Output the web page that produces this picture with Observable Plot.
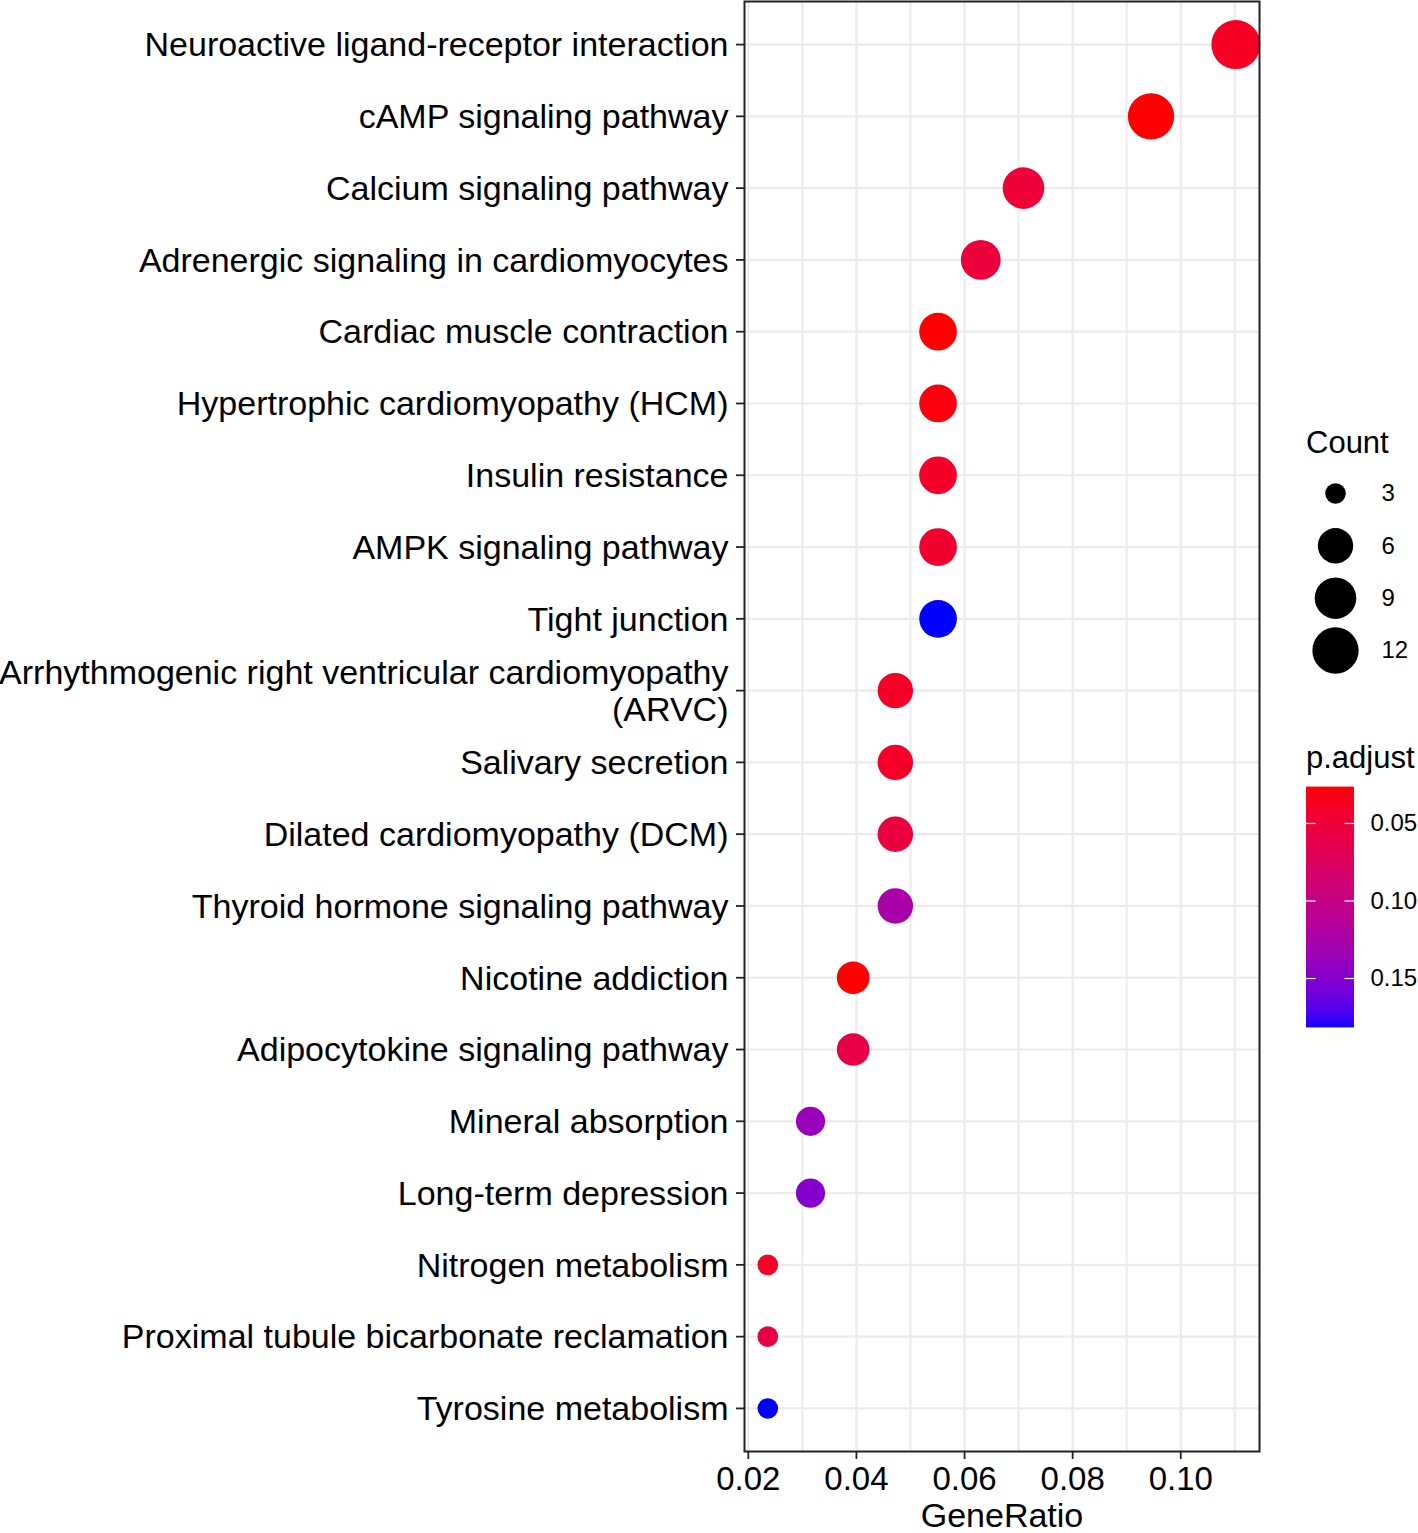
<!DOCTYPE html>
<html><head><meta charset="utf-8">
<script src="https://cdn.jsdelivr.net/npm/d3@7"></script>
<script src="https://cdn.jsdelivr.net/npm/@observablehq/plot@0.6"></script>
<style>
body{margin:0;background:#fff;font-family:"Liberation Sans",Arial,sans-serif}
#wrap{position:relative;width:1418px;height:1533px;overflow:hidden}
.abs{position:absolute}
.ttl{position:absolute;font-size:31px;line-height:31px;color:#000;white-space:nowrap}
svg{overflow:visible}
</style></head>
<body><div id="wrap"></div>
<script>
const terms = [
  "Neuroactive ligand-receptor interaction",
  "cAMP signaling pathway",
  "Calcium signaling pathway",
  "Adrenergic signaling in cardiomyocytes",
  "Cardiac muscle contraction",
  "Hypertrophic cardiomyopathy (HCM)",
  "Insulin resistance",
  "AMPK signaling pathway",
  "Tight junction",
  "Arrhythmogenic right ventricular cardiomyopathy (ARVC)",
  "Salivary secretion",
  "Dilated cardiomyopathy (DCM)",
  "Thyroid hormone signaling pathway",
  "Nicotine addiction",
  "Adipocytokine signaling pathway",
  "Mineral absorption",
  "Long-term depression",
  "Nitrogen metabolism",
  "Proximal tubule bicarbonate reclamation",
  "Tyrosine metabolism"
];
const tickLabels = [
  "Neuroactive ligand-receptor interaction",
  "cAMP signaling pathway",
  "Calcium signaling pathway",
  "Adrenergic signaling in cardiomyocytes",
  "Cardiac muscle contraction",
  "Hypertrophic cardiomyopathy (HCM)",
  "Insulin resistance",
  "AMPK signaling pathway",
  "Tight junction",
  "Arrhythmogenic right ventricular cardiomyopathy\n(ARVC)",
  "Salivary secretion",
  "Dilated cardiomyopathy (DCM)",
  "Thyroid hormone signaling pathway",
  "Nicotine addiction",
  "Adipocytokine signaling pathway",
  "Mineral absorption",
  "Long-term depression",
  "Nitrogen metabolism",
  "Proximal tubule bicarbonate reclamation",
  "Tyrosine metabolism"
];
const geneRatio = [0.1102, 0.0945, 0.0709, 0.0630, 0.0551, 0.0551, 0.0551, 0.0551, 0.0551, 0.0472,
                   0.0472, 0.0472, 0.0472, 0.0394, 0.0394, 0.0315, 0.0315, 0.0236, 0.0236, 0.0236];
const counts = [14, 12, 9, 8, 7, 7, 7, 7, 7, 6, 6, 6, 6, 5, 5, 4, 4, 3, 3, 3];
const pAdjust = [0.039, 0.0268, 0.050, 0.053, 0.0268, 0.030, 0.042, 0.045, 0.1816, 0.041,
                 0.042, 0.055, 0.125, 0.0268, 0.061, 0.138, 0.150, 0.041, 0.061, 0.1816];
const xTicks = [0.02, 0.04, 0.06, 0.08, 0.10];
const xMinor = [0.03, 0.05, 0.07, 0.09, 0.11];
const sizeBreaks = [3, 6, 9, 12];
const colorTicks = [0.05, 0.10, 0.15];

const FONT = '"Liberation Sans", Arial, sans-serif';
const rows = terms.map((t, i) => ({term: t, ratio: geneRatio[i], count: counts[i], p: pAdjust[i]}));
const [cMin, cMax] = d3.extent(counts);
const [pMin, pMax] = d3.extent(pAdjust);
const rScale = () => ({type: "linear", transform: c => Math.sqrt(Math.max(0, (c - cMin) / (cMax - cMin))), domain: [0, 1], range: [10.3, 24.5]});
const colorScale = () => ({type: "linear", domain: [pMin, pMax], range: ["red", "blue"], interpolate: d3.interpolateLab});

const wrap = document.getElementById("wrap");

const main = Plot.plot({
  width: 1418, height: 1533,
  marginLeft: 744, marginRight: 159, marginTop: 1, marginBottom: 82,
  style: {fontFamily: FONT, fontSize: "34px", color: "black", background: "white"},
  x: {domain: [0.01929, 0.11457]},
  y: {type: "point", domain: terms, padding: 0.6, round: false},
  r: rScale(),
  color: colorScale(),
  marks: [
    Plot.gridX(xMinor, {stroke: "#ebebeb", strokeOpacity: 1, strokeWidth: 2}),
    Plot.gridX(xTicks, {stroke: "#ebebeb", strokeOpacity: 1, strokeWidth: 2.2}),
    Plot.gridY(terms, {stroke: "#ebebeb", strokeOpacity: 1, strokeWidth: 2.2}),
    Plot.dot(rows, {x: "ratio", y: "term", r: "count", fill: "p"}),
    Plot.frame({stroke: "#222", strokeWidth: 2}),
    Plot.axisX(xTicks, {tickSize: 8, tickPadding: 7, fontSize: 33, tickFormat: d3.format(".2f"), label: null, stroke: "#222", strokeWidth: 1.8}),
    Plot.axisY(terms, {tickSize: 8, tickPadding: 8, fontSize: 34, lineHeight: 1.08, tickFormat: d => tickLabels[terms.indexOf(d)], label: null, stroke: "#222", strokeWidth: 1.8}),
    Plot.text(["GeneRatio"], {frameAnchor: "bottom", dy: 65, text: d => d, fontSize: 34, lineAnchor: "middle", fill: "black"})
  ]
});
main.classList.add("abs");
main.style.left = "0px"; main.style.top = "0px";
wrap.appendChild(main);

// Size legend
const t1 = document.createElement("div");
t1.className = "ttl"; t1.textContent = "Count"; t1.style.left = "1306px"; t1.style.top = "427px";
wrap.appendChild(t1);

const sizeLeg = Plot.plot({
  width: 128, height: 210, marginLeft: 45, marginRight: 0, marginTop: 28, marginBottom: 25,
  style: {fontFamily: FONT, color: "black", background: "transparent"},
  y: {type: "point", domain: sizeBreaks, padding: 0, round: false, axis: null},
  r: rScale(),
  marks: [
    Plot.dot(sizeBreaks, {y: d => d, r: d => d, fill: "black", frameAnchor: "left"}),
    Plot.text(sizeBreaks, {y: d => d, text: d => String(d), frameAnchor: "left", dx: 46, textAnchor: "start", fontSize: 24, fill: "black"})
  ]
});
sizeLeg.classList.add("abs");
sizeLeg.style.left = "1290px"; sizeLeg.style.top = "465px";
wrap.appendChild(sizeLeg);

// Color legend
const t2 = document.createElement("div");
t2.className = "ttl"; t2.textContent = "p.adjust"; t2.style.left = "1306px"; t2.style.top = "742px";
wrap.appendChild(t2);

const N = 160;
const slices = d3.range(N).map(i => ({
  a: pMin + i * (pMax - pMin) / N,
  b: pMin + (i + 1) * (pMax - pMin) / N,
  m: pMin + (i + 0.5) * (pMax - pMin) / N
}));
const colLeg = Plot.plot({
  width: 128, height: 240, marginLeft: 16, marginRight: 64, marginTop: 0, marginBottom: 0,
  style: {fontFamily: FONT, color: "black", background: "transparent"},
  x: {domain: [0, 1], axis: null},
  y: {domain: [pMin, pMax], reverse: true, axis: null},
  color: colorScale(),
  marks: [
    Plot.rect(slices, {x1: 0, x2: 1, y1: "a", y2: "b", fill: "m", insetTop: -0.4, insetBottom: -0.4}),
    Plot.ruleY(colorTicks, {y: d => d, x1: 0, x2: 0.2, stroke: "white", strokeWidth: 1.2}),
    Plot.ruleY(colorTicks, {y: d => d, x1: 0.8, x2: 1, stroke: "white", strokeWidth: 1.2}),
    Plot.text(colorTicks, {y: d => d, x: 1, dx: 16, text: d => d3.format(".2f")(d), textAnchor: "start", fontSize: 24, fill: "black"})
  ]
});
colLeg.classList.add("abs");
colLeg.style.left = "1290px"; colLeg.style.top = "787px";
wrap.appendChild(colLeg);
</script>
</body></html>
